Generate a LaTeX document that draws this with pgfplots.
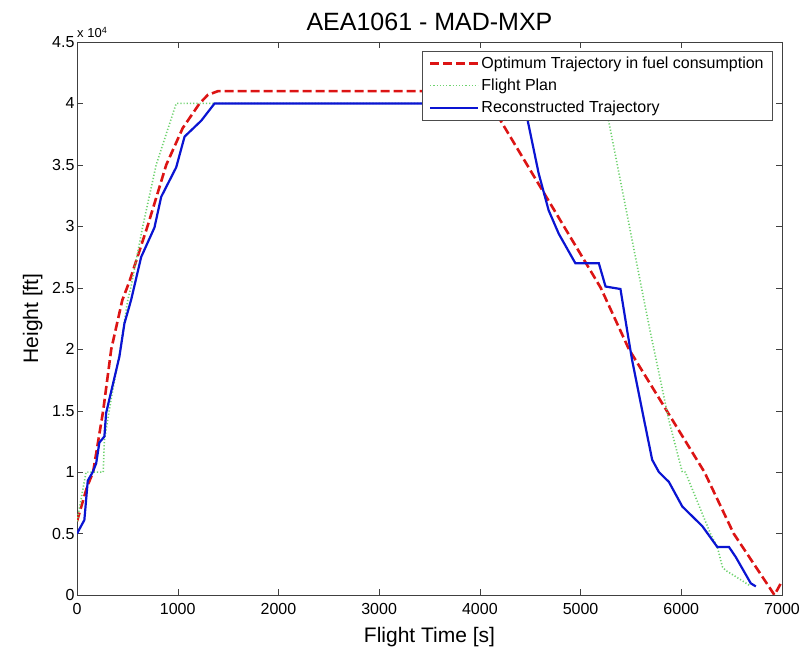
\documentclass[border=0pt]{standalone}
\usepackage{fontspec}
\setmainfont{Liberation Sans}
\usepackage{pgfplots}
\pgfplotsset{compat=1.18}
\definecolor{optred}{RGB}{220,20,20}
\definecolor{fpgreen}{RGB}{110,210,110}
\definecolor{recblue}{RGB}{10,20,210}
\begin{document}
\begin{tikzpicture}
\path (0pt,0pt) rectangle (808pt,648pt);
\begin{axis}[
  name=main,
  at={(77pt,53pt)}, anchor=south west,
  scale only axis, width=705pt, height=553pt,
  xmin=0, xmax=7000, ymin=0, ymax=45000,
  scaled ticks=false,
  xtick={0,1000,...,7000},
  ytick={0,5000,...,45000},
  yticklabels={0,0.5,1,1.5,2,2.5,3,3.5,4,4.5},
  tick align=inside, major tick length=6pt,
  /pgf/number format/assume math mode=true,
  /pgf/number format/set thousands separator={},
  tick label style={font=\fontsize{16}{18}\selectfont},
  xticklabel style={yshift=-5pt},
  yticklabel style={xshift=1pt},
  axis line style={black!75},
  tick style={black!75},
  title={AEA1061 - MAD-MXP},
  title style={font=\fontsize{25}{28}\selectfont, yshift=2pt},
  xlabel={Flight Time [s]},
  ylabel={Height [ft]},
  label style={font=\fontsize{21}{24}\selectfont},
  xlabel style={yshift=-6pt},
  ylabel style={yshift=3pt},
  legend style={at={(rel axis cs:0.987,0.984)}, anchor=north east,
    font=\fontsize{16}{18}\selectfont, draw=black!70, row sep=5pt,
    inner xsep=7pt, inner ysep=4pt, cells={anchor=west}},
  legend image code/.code={\draw[#1] (0pt,0pt) -- (48pt,0pt);},
  clip=true,
]
\addplot[optred, line width=2.6pt, dash pattern=on 9pt off 4pt] coordinates {
(0,6000) (100,8800) (160,10000) (260,15000) (340,20000) (450,24000) (520,25500)
(700,30000) (886,35000) (1050,38000) (1217,40000) (1300,40700) (1400,41000)
(4030,41000) (4250,38000) (5200,25000) (5480,20000) (6230,10000) (6520,5000)
(6925,0) (6985,900)};
\addlegendentry{Optimum Trajectory in fuel consumption}
\addplot[fpgreen, line width=1.6pt, dash pattern=on 1.2pt off 2pt] coordinates {
(0,6000) (90,10000) (260,10000) (272,12600) (338,15900) (421,19600) (504,24000)
(537,25100) (653,30000) (786,35000) (985,40000) (5240,40000) (5283,38400)
(5629,24000) (5690,21500) (5877,14200) (6010,10000) (6040,10000) (6289,5000)
(6358,3900) (6408,2300) (6440,2000) (6540,1500) (6673,800)};
\addlegendentry{Flight Plan}
\addplot[recblue, line width=2.2pt] coordinates {
(0,5000) (73,6100) (107,9300) (156,10000) (190,10700) (222,12400) (272,12900)
(289,14800) (421,19400) (471,22100) (537,24000) (637,27500) (769,29900)
(836,32400) (985,34800) (1068,37300) (1234,38600) (1366,40000) (4420,40000)
(4470,38800) (4584,34300) (4683,31300) (4783,29400) (4948,27000) (5181,27000)
(5248,25100) (5396,24900) (5463,21500) (5512,19100) (5612,15000) (5711,11000)
(5778,10000) (5877,9200) (6010,7200) (6209,5600) (6358,3900) (6474,3900)
(6540,3100) (6690,950) (6740,700)};
\addlegendentry{Reconstructed Trajectory}
\end{axis}
\node[anchor=south west, font=\fontsize{13}{15}\selectfont, inner sep=0pt] at ([yshift=4pt]main.north west) {x 10\raisebox{0.55ex}{\fontsize{9}{10}\selectfont 4}};
\end{tikzpicture}
\end{document}
